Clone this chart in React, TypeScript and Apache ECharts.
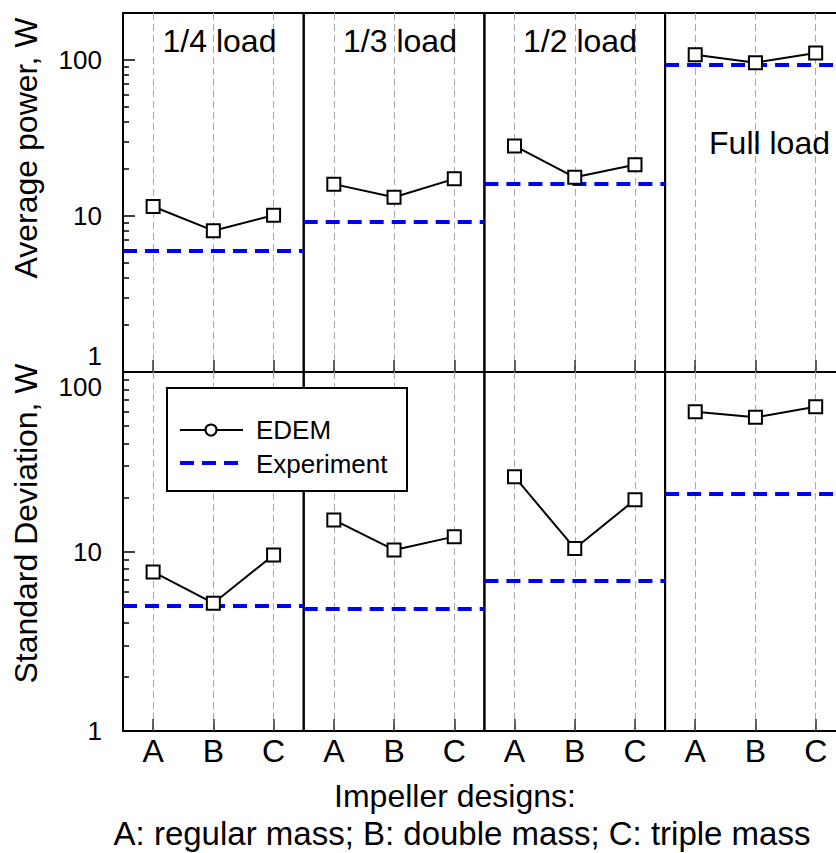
import React, { useEffect, useRef } from "react";
import * as echarts from "echarts";

// ---- data ----
const designs = ["A", "B", "C"];
const loads = ["1/4 load", "1/3 load", "1/2 load", "Full load"];

// Average power, W (EDEM simulations) per load, designs A/B/C
const powerEdem14 = [11.5, 8.05, 10.1];
const powerEdem13 = [16.0, 13.2, 17.3];
const powerEdem12 = [28.1, 17.7, 21.3];
const powerEdemFull = [108, 96.1, 111];
// Average power, W (experiment) per load
const powerExp = [5.99, 9.25, 16.0, 93.8];

// Standard deviation, W (EDEM) per load, designs A/B/C
const sdEdem14 = [7.69, 5.15, 9.56];
const sdEdem13 = [15.0, 10.2, 12.1];
const sdEdem12 = [26.1, 10.4, 19.4];
const sdEdemFull = [60.1, 55.9, 64.1];
// Standard deviation, W (experiment) per load
const sdExp = [4.99, 4.77, 6.88, 21.0];

const yTitles = ["Average power, W", "Standard Deviation, W"];
const xTitle = "Impeller designs:";
const xSubtitle = "A: regular mass; B: double mass; C: triple mass";
const legendNames = ["EDEM", "Experiment"];
const axisMax = [200, 100];

// ---- layout ----
const FONT = "'Liberation Sans', Arial, Helvetica, sans-serif";
const panelLefts = [123, 303.7, 484.4, 665.1];
const panelWidth = 180.7;
const rowTops = [13, 372];
const rowHeight = 359;

function buildOption() {
  const edemRows = [
    [powerEdem14, powerEdem13, powerEdem12, powerEdemFull],
    [sdEdem14, sdEdem13, sdEdem12, sdEdemFull],
  ];
  const expRows = [powerExp, sdExp];

  const grid: any[] = [];
  const xAxis: any[] = [];
  const yAxis: any[] = [];
  const series: any[] = [];

  for (let r = 0; r < 2; r++) {
    for (let c = 0; c < 4; c++) {
      const idx = r * 4 + c;
      grid.push({
        left: panelLefts[c],
        top: rowTops[r],
        width: panelWidth,
        height: rowHeight,
        show: true,
        borderColor: "#000",
        borderWidth: 2,
        backgroundColor: "transparent",
        containLabel: false,
        outerBoundsMode: "none",
      });
      xAxis.push({
        type: "category",
        gridIndex: idx,
        data: designs,
        boundaryGap: true,
        axisLine: { show: false },
        axisTick: {
          show: true,
          inside: true,
          alignWithLabel: true,
          interval: 0,
          length: 12,
          lineStyle: { color: "#333", width: 1.5 },
        },
        axisLabel: {
          show: r === 1,
          interval: 0,
          fontSize: 32,
          fontFamily: FONT,
          color: "#000",
          margin: 4,
        },
        splitLine: {
          show: true,
          alignWithLabel: true,
          interval: 0,
          lineStyle: { color: "#a8a8a8", width: 1, type: [7, 4] },
        },
      });
      const row = r;
      yAxis.push({
        type: "log",
        logBase: 10,
        gridIndex: idx,
        min: 1,
        max: axisMax[r],
        axisLine: { show: false },
        axisTick: {
          show: c === 0,
          inside: true,
          length: 12,
          lineStyle: { color: "#000", width: 1.5 },
        },
        minorTick: {
          show: c === 0,
          splitNumber: 9,
          length: 6,
          lineStyle: { color: "#000", width: 1.5 },
        },
        splitLine: { show: false },
        minorSplitLine: { show: false },
        axisLabel: {
          show: c === 0,
          margin: 21,
          fontSize: 26,
          fontFamily: FONT,
          color: "#000",
          formatter: (v: number) => {
            if (v > 150) return "";
            const s = String(Math.round(v));
            if (row === 0 && v < 1.5) return "{up|" + s + "}";
            if (row === 1 && v > 50) return "{down|" + s + "}";
            return "{n|" + s + "}";
          },
          rich: {
            n: { fontSize: 26, fontFamily: FONT, color: "#000" },
            up: { fontSize: 26, fontFamily: FONT, color: "#000", padding: [0, 0, 32, 0] },
            down: { fontSize: 26, fontFamily: FONT, color: "#000", padding: [30, 0, 0, 0] },
          },
        },
      });
      series.push({
        name: legendNames[1],
        type: "line",
        xAxisIndex: idx,
        yAxisIndex: idx,
        data: [],
        z: 3,
        silent: true,
        markLine: {
          silent: true,
          symbol: ["none", "none"],
          label: { show: false },
          emphasis: { disabled: true },
          lineStyle: { color: "#0000ff", width: 4, type: [14, 8] },
          data: [{ yAxis: expRows[r][c] }],
        },
      });
      series.push({
        name: legendNames[0],
        type: "line",
        xAxisIndex: idx,
        yAxisIndex: idx,
        data: edemRows[r][c],
        symbol: "rect",
        symbolSize: 13,
        showSymbol: true,
        z: 5,
        silent: true,
        itemStyle: { color: "#fff", borderColor: "#000", borderWidth: 2 },
        lineStyle: { color: "#000", width: 2 },
      });
    }
  }

  const titlePos = [
    [219.5, 41],
    [400, 41],
    [580, 41],
    [769.5, 142.5],
  ];

  const graphicEls: any[] = [];
  loads.forEach((t, i) => {
    graphicEls.push({
      type: "text",
      x: titlePos[i][0],
      y: titlePos[i][1],
      z: 20,
      style: {
        text: t,
        fontSize: 32,
        fontFamily: FONT,
        fill: "#000",
        align: "center",
        verticalAlign: "middle",
      },
    });
  });
  // y-axis titles
  const yTitlePos = [
    [26, 148],
    [26, 523.5],
  ];
  yTitles.forEach((t, i) => {
    graphicEls.push({
      type: "text",
      x: yTitlePos[i][0],
      y: yTitlePos[i][1],
      rotation: Math.PI / 2,
      z: 20,
      style: {
        text: t,
        fontSize: 32,
        fontFamily: FONT,
        fill: "#000",
        align: "center",
        verticalAlign: "middle",
      },
    });
  });
  // x-axis titles
  graphicEls.push({
    type: "text",
    x: 455,
    y: 796,
    z: 20,
    style: { text: xTitle, fontSize: 32, fontFamily: FONT, fill: "#000", align: "center", verticalAlign: "middle" },
  });
  graphicEls.push({
    type: "text",
    x: 462,
    y: 833,
    z: 20,
    style: { text: xSubtitle, fontSize: 33, fontFamily: FONT, fill: "#000", align: "center", verticalAlign: "middle" },
  });
  // legend
  graphicEls.push({
    type: "rect",
    z: 30,
    shape: { x: 167, y: 388, width: 240, height: 103 },
    style: { fill: "#fff", stroke: "#000", lineWidth: 2 },
  });
  graphicEls.push({
    type: "line",
    z: 31,
    shape: { x1: 180, y1: 430, x2: 243, y2: 430 },
    style: { stroke: "#000", lineWidth: 2 },
  });
  graphicEls.push({
    type: "circle",
    z: 32,
    shape: { cx: 211, cy: 430, r: 5.5 },
    style: { fill: "#fff", stroke: "#000", lineWidth: 2 },
  });
  graphicEls.push({
    type: "line",
    z: 31,
    shape: { x1: 180, y1: 463, x2: 242, y2: 463 },
    style: { stroke: "#0000ff", lineWidth: 4, lineDash: [14, 8] },
  });
  legendNames.forEach((t, i) => {
    graphicEls.push({
      type: "text",
      x: 256,
      y: i === 0 ? 430 : 464,
      z: 32,
      style: { text: t, fontSize: 26, fontFamily: FONT, fill: "#000", align: "left", verticalAlign: "middle" },
    });
  });

  return {
    animation: false,
    backgroundColor: "#fff",
    textStyle: { fontFamily: FONT },
    grid,
    xAxis,
    yAxis,
    series,
    graphic: { elements: graphicEls },
  };
}

export default function App() {
  const ref = useRef<HTMLDivElement>(null);
  useEffect(() => {
    if (!ref.current) return;
    const chart = echarts.init(ref.current, null, { renderer: "svg" });
    chart.setOption(buildOption() as any);
    return () => {
      chart.dispose();
    };
  }, []);
  return (
    <div
      ref={ref}
      style={{ position: "fixed", left: 0, top: 0, width: 836, height: 853, background: "#fff" }}
    />
  );
}
